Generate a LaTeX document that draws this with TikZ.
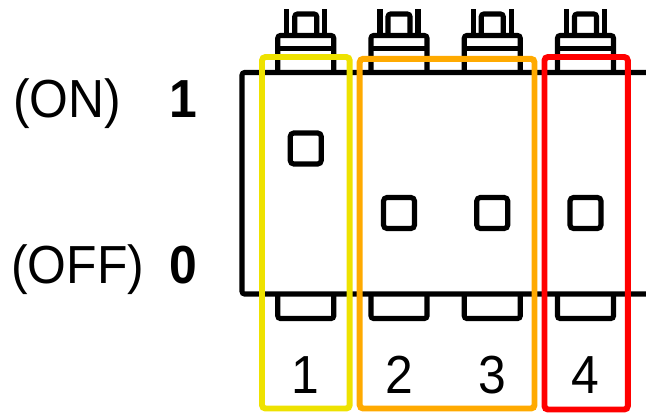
\documentclass[tikz,border=0pt]{standalone}
\usepackage{fontspec}
\setmainfont{Liberation Sans}
\definecolor{dipyellow}{RGB}{238,226,0}
\definecolor{diporange}{RGB}{255,170,0}
\definecolor{dipred}{RGB}{255,0,0}

\begin{document}
\begin{tikzpicture}[x=0.02cm,y=-0.02cm,
		part/.style={line width=2.9pt,rounded corners=1.5pt},
		group/.style={line width=3.4pt,rounded corners=2pt},
		lbl/.style={inner sep=0pt,anchor=base,xscale=0.93,transform shape,
			font=\fontsize{30.5}{36}\selectfont}]
	\useasboundingbox (0,0) rectangle (646,414);

	% housing, open to the right
	\draw[part] (646,72.5) -- (242,72.5) -- (242,294) -- (646,294);

	% the four switches
	\foreach \i/\x/\k in {1/305.75/148.5, 2/399/213, 3/492.25/213, 4/585.5/213}{
		\draw[part] (\x-19,9) -- (\x-19,35.5) (\x+19,9) -- (\x+19,35.5);
		\draw[part] (\x-11,35.5) -- (\x-11,14) -- (\x+11,14) -- (\x+11,35.5);
		\draw[part] (\x-28,72.5) -- (\x-28,35.5) -- (\x+28,35.5) -- (\x+28,72.5);
		\draw[part] (\x-28,48.5) -- (\x+28,48.5);
		\draw[part] (\x-28,294) -- (\x-28,318.5) -- (\x+28,318.5) -- (\x+28,294);
		\draw[part,rounded corners=2pt] (\x-15.5,\k-15.5) rectangle (\x+15.5,\k+15.5);
		\node[lbl] (num\i) at (\x,393) {\i};
	}

	% groups
	\draw[group,dipyellow] (262,57) rectangle (349.7,408.5);
	\draw[group,diporange] (359.7,58.8) rectangle (534.5,408.5);
	\draw[group,dipred] (544.5,57) rectangle (627.8,409.5);

	\node[lbl,anchor=base west] (on) at (13,117) {(ON)};
	\node[lbl,font=\fontsize{30.5}{36}\selectfont\bfseries] (high) at (183,117) {1};
	\node[lbl,anchor=base west] (off) at (11,283) {(OFF)};
	\node[lbl,font=\fontsize{30.5}{36}\selectfont\bfseries] (low) at (183,283) {0};
\end{tikzpicture}
\end{document}
